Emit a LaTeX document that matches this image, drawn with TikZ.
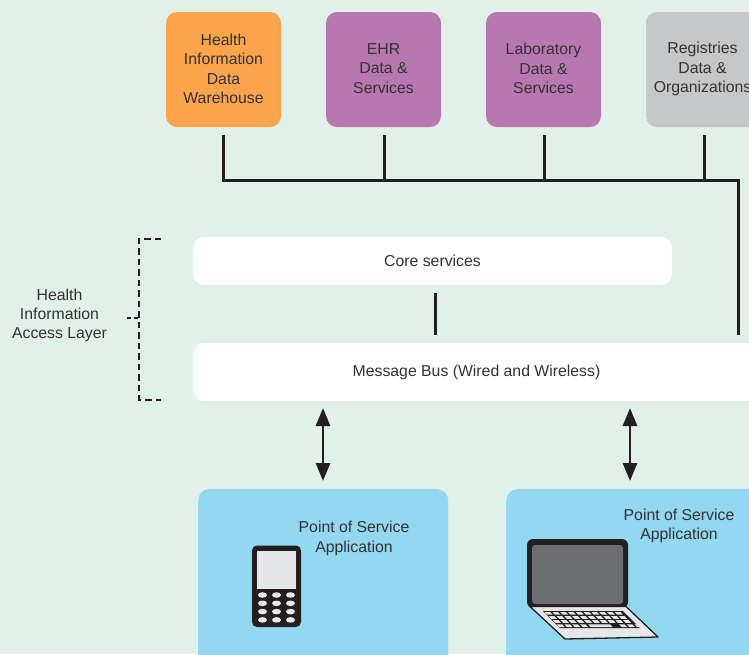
\documentclass[tikz,border=0pt]{standalone}
\usepackage{fontspec}
\setmainfont{Liberation Sans}
\usetikzlibrary{arrows.meta,calc}
\definecolor{bgc}{HTML}{E1F0E8}
\definecolor{orangec}{HTML}{FBA44C}
\definecolor{purplec}{HTML}{B877B0}
\definecolor{greyc}{HTML}{C6C7C9}
\definecolor{bluec}{HTML}{93D7F0}
\definecolor{inkc}{HTML}{231F20}
\definecolor{txtc}{HTML}{333333}
\definecolor{screenc}{HTML}{6D6E71}
\definecolor{keyc}{HTML}{E6E7E8}
\tikzset{
  x=1pt,y=-1pt,
  label text/.style={text=txtc,font=\fontsize{15.8}{19.4}\selectfont,align=center,inner sep=0pt},
  source/.style={label text,rounded corners=11pt,minimum width=115pt,minimum height=115pt,anchor=center},
  layer/.style={label text,fill=white,rounded corners=11pt,anchor=center},
  app/.style={fill=bluec,rounded corners=11pt,inner sep=0pt,anchor=north west},
  conn/.style={draw=inkc,line width=3pt},
  both/.style={draw=inkc,line width=2.8pt,{Triangle[length=18pt,width=14pt]}-{Triangle[length=18pt,width=14pt]}},
  brace/.style={draw=inkc,line width=2pt,dash pattern=on 6.5pt off 4pt},
  body/.style={fill=inkc,draw=none},
}
\begin{document}
\begin{tikzpicture}
\useasboundingbox (0,0) rectangle (749,654);
\clip (0,0) rectangle (749,654);
\fill[bgc] (0,0) rectangle (749,654);

% sources
\node[source,fill=orangec] (hiw) at (223.5,69.5) {};
\node[source,fill=purplec] (ehr) at (383.5,69.5) {};
\node[source,fill=purplec] (lab) at (543.5,69.5) {};
\node[source,fill=greyc] (reg) at (703.5,69.5) {};
\node[label text] (hiwt) at (223.5,69) {Health\\Information\\Data\\Warehouse};
\node[label text] (ehrt) at (383.5,68.5) {EHR\\Data \&\\Services};
\node[label text] (labt) at (543.5,68.5) {Laboratory\\Data \&\\Services};
\node[label text] (regt) at (702.5,69.2) {Registries\\Data \&\\Organizations};

% layers
\node[layer,minimum width=479pt,minimum height=48pt] (core) at (432.5,261) {};
\node[label text] (coret) at (432.5,260.5) {Core services};
\node[layer,minimum width=567pt,minimum height=58pt] (bus) at (476.5,372) {Message Bus (Wired and Wireless)};

% applications
\node[app,minimum width=250pt,minimum height=200pt] (app1) at (198,489) {};
\node[app,minimum width=300pt,minimum height=200pt] (app2) at (506,489) {};
\node[label text] (app1t) at (354,538.5) {Point of Service\\Application};
\node[label text] (app2t) at (679,526) {Point of Service\\Application};

% left label
\node[label text] (hial) at (59.5,315.5) {Health\\Information\\Access Layer};
\coordinate (btop) at (161,238.5);
\coordinate (bbot) at (161,399.5);
\coordinate (bmid) at (127,318);
\draw[brace] (btop) -- (139,238.5) -- (139,399.5) -- (bbot);
\draw[brace,dash pattern=on 4pt off 2.5pt] (bmid) -- (139,318);

% connectors
\coordinate (j1) at (223.5,180);
\coordinate (j2) at (384.5,180);
\coordinate (j3) at (544.5,180);
\coordinate (j4) at (704.5,180);
\coordinate (corner) at (738.8,180);
\coordinate (busin) at (738.8,335);
\coordinate (corein) at (435,293);
\coordinate (busout) at (435,335);
\draw[conn,line join=miter] ($(hiw.south)+(0,8)$) -- (j1) -- (corner) -- (busin);
\draw[conn] ($(ehr.south)+(1,8)$) -- (j2);
\draw[conn] ($(lab.south)+(1,8)$) -- (j3);
\draw[conn] ($(reg.south)+(1,8)$) -- (j4);
\draw[conn] (corein) -- (busout);
\coordinate (a1t) at (323,408);
\coordinate (a1b) at (323,481);
\coordinate (a2t) at (630,408);
\coordinate (a2b) at (630,481);
\draw[both] (a1t) -- (a1b);
\draw[both] (a2t) -- (a2b);

% phone
\fill[body,rounded corners=5pt] (252,545.5) rectangle (301,627);
\fill[keyc] (257,551) rectangle (296,589);
\foreach \r in {0,1,2,3}{
  \foreach \c in {0,1,2}{
    \fill[keyc] ({262.5+14*\c},{595+8.3*\r}) ellipse (4.5pt and 2.8pt);
  }
}

% laptop
\fill[body,rounded corners=6pt] (527,539) rectangle (628,608);
\fill[screenc,rounded corners=3pt] (532,545) rectangle (623,604);
\draw[inkc,line width=1.3pt,fill=keyc,line join=round] (530,606.5) -- (626,606.5) -- (658,637) -- (565,639) -- cycle;
% keyboard
\fill[inkc] (543,611) -- (623,611) -- (640,628) -- (560,628) -- cycle;
\foreach \r in {0,1,2}{
  \foreach \c in {0,1,...,9}{
    \pgfmathsetmacro{\xa}{544.5+7.8*\c+4.2*\r}
    \pgfmathsetmacro{\ya}{612+4.1*\r}
    \fill[keyc] (\xa,\ya) -- ({\xa+5.6},\ya) -- ({\xa+8.2},{\ya+2.7}) -- ({\xa+2.6},{\ya+2.7}) -- cycle;
  }
}
\foreach \c in {0,1,2,3,8,9,10}{
  \pgfmathsetmacro{\xa}{556.5+7.8*\c}
  \fill[keyc] (\xa,624.3) -- ({\xa+5.6},624.3) -- ({\xa+8.2},627) -- ({\xa+2.6},627) -- cycle;
}
\fill[keyc] (588,624.3) -- (610,624.3) -- (612.6,627) -- (590.6,627) -- cycle;
\end{tikzpicture}
\end{document}
